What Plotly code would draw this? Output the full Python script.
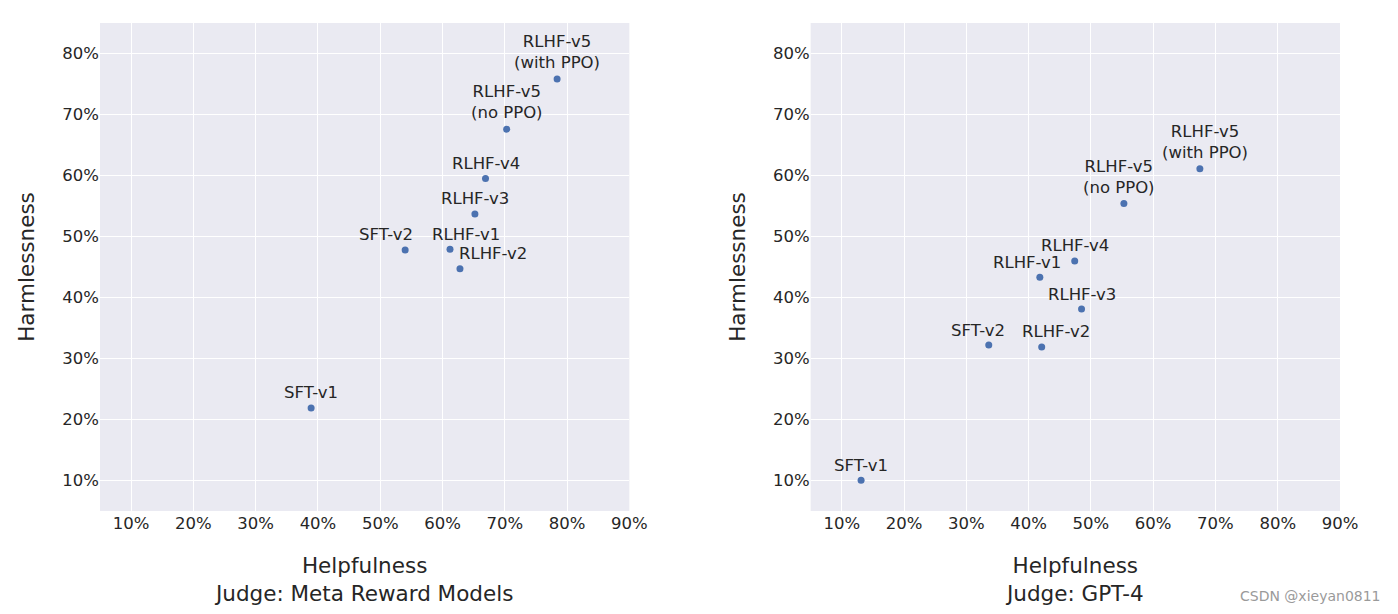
import plotly.graph_objects as go

# ---- data ----
model_labels = ["SFT-v1", "SFT-v2", "RLHF-v1", "RLHF-v2", "RLHF-v3", "RLHF-v4",
                "RLHF-v5<br>(no PPO)", "RLHF-v5<br>(with PPO)"]
helpful_meta = [0.389, 0.540, 0.612, 0.628, 0.652, 0.669, 0.703, 0.784]
harmless_meta = [0.219, 0.478, 0.479, 0.447, 0.537, 0.595, 0.676, 0.758]
helpful_gpt4 = [0.131, 0.336, 0.418, 0.421, 0.485, 0.474, 0.553, 0.675]
harmless_gpt4 = [0.1005, 0.322, 0.433, 0.319, 0.381, 0.460, 0.554, 0.611]
x_title_meta = "Helpfulness<br>Judge: Meta Reward Models"
x_title_gpt4 = "Helpfulness<br>Judge: GPT-4"
y_title = "Harmlessness"
watermark = "CSDN @xieyan0811"

# ---- label offsets (pixels) ----
xshift_meta = [0, -19, 16, 33, 0, 0, 0, 0]
xshift_gpt4 = [0, -11, -13, 14, 0, 0, -5, 5]

TEXT = "#262626"
BG = "#EAEAF2"
DOT = "#4C72B0"
FONT = "DejaVu Sans"

fig = go.Figure()
fig.add_trace(go.Scatter(x=helpful_meta, y=harmless_meta, mode="markers",
                         marker=dict(color=DOT, size=7), xaxis="x", yaxis="y",
                         showlegend=False, hoverinfo="skip"))
fig.add_trace(go.Scatter(x=helpful_gpt4, y=harmless_gpt4, mode="markers",
                         marker=dict(color=DOT, size=7), xaxis="x2", yaxis="y2",
                         showlegend=False, hoverinfo="skip"))

annotations = []
for xs, ys, shifts, xr, yr in [(helpful_meta, harmless_meta, xshift_meta, "x", "y"),
                               (helpful_gpt4, harmless_gpt4, xshift_gpt4, "x2", "y2")]:
    for lab, xv, yv, sh in zip(model_labels, xs, ys, shifts):
        two = "<br>" in lab
        annotations.append(dict(x=xv, y=yv, xref=xr, yref=yr, text=lab, showarrow=False,
                                xanchor="center", yanchor="middle",
                                xshift=sh, yshift=27 if two else 15,
                                font=dict(family=FONT, size=16.5, color=TEXT)))

annotations.append(dict(x=1.0, y=0, xref="paper", yref="paper", text=watermark,
                        showarrow=False, xanchor="right", yanchor="middle",
                        xshift=43, yshift=-85,
                        font=dict(family=FONT, size=14, color="#9a9a9a")))

axis_common = dict(range=[0.05, 0.90], tickformat=".0%", tick0=0.1, dtick=0.1,
                   showgrid=True, gridcolor="white", gridwidth=1.2, zeroline=False,
                   showline=False, ticks="",
                   tickfont=dict(family=FONT, size=16.5, color=TEXT))
yaxis_common = dict(range=[0.05, 0.85], tickformat=".0%", tick0=0.1, dtick=0.1,
                    showgrid=True, gridcolor="white", gridwidth=1.2, zeroline=False,
                    showline=False, ticks="",
                    tickfont=dict(family=FONT, size=16.5, color=TEXT))

TITLE_SIZE = 21.5

fig.update_layout(
    width=1398, height=614,
    margin=dict(l=100, r=58, t=23, b=103),
    paper_bgcolor="white", plot_bgcolor=BG,
    font=dict(family=FONT, color=TEXT),
    xaxis=dict(domain=[0, 0.4269], anchor="y",
               title=dict(text=x_title_meta, standoff=26,
                          font=dict(family=FONT, size=TITLE_SIZE, color=TEXT)), **axis_common),
    yaxis=dict(domain=[0, 1], anchor="x",
               title=dict(text=y_title, standoff=21,
                          font=dict(family=FONT, size=TITLE_SIZE, color=TEXT)), **yaxis_common),
    xaxis2=dict(domain=[0.5731, 1], anchor="y2",
                title=dict(text=x_title_gpt4, standoff=26,
                           font=dict(family=FONT, size=TITLE_SIZE, color=TEXT)), **axis_common),
    yaxis2=dict(domain=[0, 1], anchor="x2",
                title=dict(text=y_title, standoff=21,
                           font=dict(family=FONT, size=TITLE_SIZE, color=TEXT)), **yaxis_common),
    annotations=annotations,
)

fig.write_html("out.html", config={"displayModeBar": False},
               post_script="document.body.style.margin='0px';")
